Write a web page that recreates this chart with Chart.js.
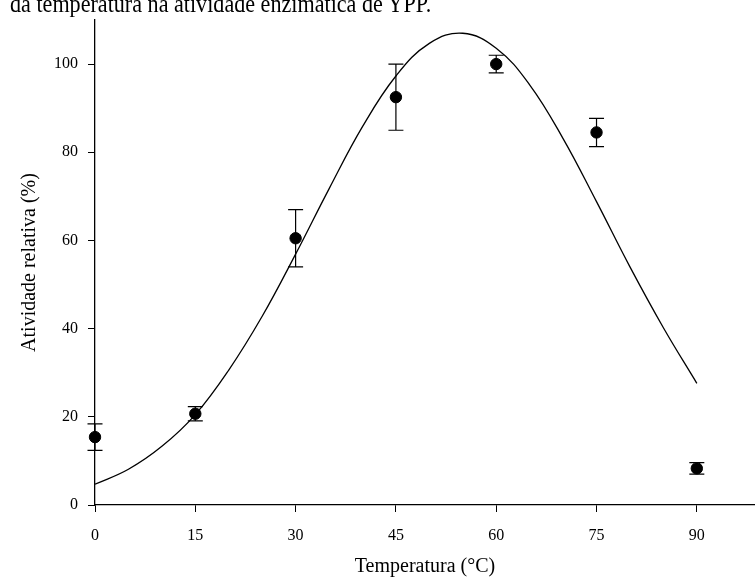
<!DOCTYPE html>
<html>
<head>
<meta charset="utf-8">
<script src="https://cdn.jsdelivr.net/npm/chart.js@4.4.0/dist/chart.umd.min.js"></script>
<style>
  html, body { margin: 0; padding: 0; background: #fff; }
  #wrap { position: relative; width: 755px; height: 581px; overflow: hidden; }
  #caption { position: absolute; left: 10px; top: -10px; font-family: "Liberation Serif", serif;
             font-size: 25px; color: #000; white-space: nowrap;
             transform: scaleX(0.885); transform-origin: left top; }
  canvas { position: absolute; left: 0; top: 0; }
</style>
</head>
<body>
<div id="wrap">
  <canvas id="temp-chart" width="755" height="581"></canvas>
  <div id="caption">da temperatura na atividade enzimática de YPP.</div>
</div>
<script>
// pontos medidos
const temps = [0, 15, 30, 45, 60, 75, 90]
const atividade = [15.4, 20.7, 60.5, 92.5, 100, 84.5, 8.3]
const erro = [3.0, 1.6, 6.5, 7.5, 2.0, 3.2, 1.3]

// curva ajustada
const curva_x = [0, 5, 10, 15, 20, 25, 30, 35, 40, 45, 50, 55, 60, 65, 70, 75, 80, 85, 90]
const curva_y = [4.7, 8.1, 13.3, 20.5, 30.6, 42.8, 56.9, 71.7, 85.8, 97.3, 104.7, 107, 103.6, 95.3, 83.1, 68.8, 54.0, 40.2, 27.6]

const x_ticks = [0, 15, 30, 45, 60, 75, 90]
const y_ticks = [0, 20, 40, 60, 80, 100]

const serif = "'Liberation Serif', 'Times New Roman', serif"

const errorBars = {
    id: 'errorBars',
    afterDatasetsDraw(chart) {
        const ctx = chart.ctx
        const xs = chart.scales.x
        const ys = chart.scales.y
        ctx.save()
        ctx.strokeStyle = '#000'
        ctx.lineWidth = 1.2
        temps.forEach((t, i) => {
            let px = xs.getPixelForValue(t)
            let top = ys.getPixelForValue(atividade[i] + erro[i])
            let bot = ys.getPixelForValue(atividade[i] - erro[i])
            ctx.beginPath()
            ctx.moveTo(px, top); ctx.lineTo(px, bot)
            ctx.moveTo(px - 7.5, top); ctx.lineTo(px + 7.5, top)
            ctx.moveTo(px - 7.5, bot); ctx.lineTo(px + 7.5, bot)
            ctx.stroke()
        })
        ctx.restore()
    }
}

const ctx = document.getElementById('temp-chart')
new Chart(ctx, {
    type: 'scatter',
    data: {
        datasets: [
            {
                type: 'line',
                data: curva_x.map((x, i) => ({ x: x, y: curva_y[i] })),
                borderColor: '#000',
                borderWidth: 1.3,
                pointRadius: 0,
                tension: 0.4,
                fill: false,
            },
            {
                data: temps.map((t, i) => ({ x: t, y: atividade[i] })),
                backgroundColor: '#000',
                borderColor: '#000',
                pointRadius: 5.7,
                pointHoverRadius: 5.7,
                clip: false,
            },
        ]
    },
    options: {
        responsive: false,
        animation: false,
        layout: { autoPadding: false, padding: { top: 20, right: 0, left: 0, bottom: 0 } },
        scales: {
            x: {
                type: 'linear',
                min: 0,
                max: 98.7,
                afterBuildTicks: (axis) => { axis.ticks = x_ticks.map(v => ({ value: v })) },
                afterFit: (axis) => { axis.height = 76 },
                grid: { drawOnChartArea: false, tickLength: 7, color: '#000', tickColor: '#000' },
                border: { display: true, color: '#000', width: 1.3 },
                ticks: { color: '#000', font: { family: serif, size: 16 }, padding: 14, maxRotation: 0 },
                title: { display: true, text: 'Temperatura (°C)', color: '#000', font: { family: serif, size: 20 }, padding: { top: 0, bottom: 2 } },
            },
            y: {
                min: 0,
                max: 110,
                afterBuildTicks: (axis) => { axis.ticks = y_ticks.map(v => ({ value: v })) },
                afterFit: (axis) => { axis.width = 95 },
                grid: { drawOnChartArea: false, tickLength: 7, color: '#000', tickColor: '#000' },
                border: { display: true, color: '#000', width: 1.3 },
                ticks: { color: '#000', font: { family: serif, size: 16 }, padding: 10 },
                title: { display: true, text: 'Atividade relativa (%)', color: '#000', font: { family: serif, size: 20 }, padding: { top: 18, bottom: 0 } },
            }
        },
        plugins: {
            legend: { display: false },
            title: { display: false },
            tooltip: { enabled: false },
        }
    },
    plugins: [errorBars]
})
</script>
</body>
</html>
